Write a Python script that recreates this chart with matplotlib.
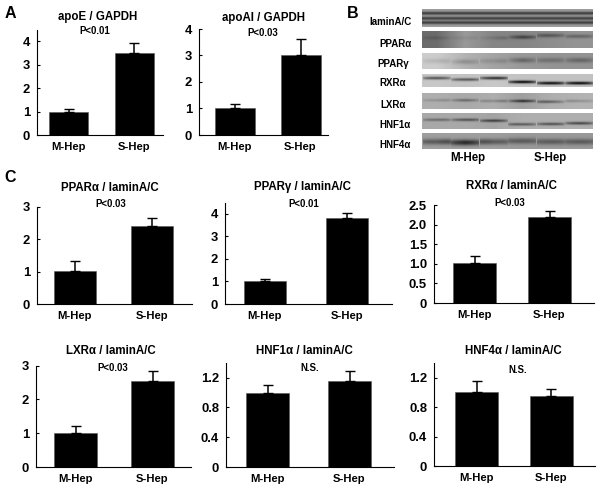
import numpy as np
import matplotlib
matplotlib.use('Agg')
import matplotlib.pyplot as plt

plt.rcParams['font.family'] = ['Liberation Sans', 'DejaVu Sans']
plt.rcParams['font.weight'] = 'bold'

W, H = 600, 486

groups = ['M-Hep', 'S-Hep']

apoe_vals = [1.0, 3.5]
apoe_tops = [1.12, 3.92]
apoai_vals = [1.02, 3.0]
apoai_tops = [1.18, 3.62]
ppara_vals = [1.02, 2.4]
ppara_tops = [1.32, 2.65]
pparg_vals = [1.0, 3.8]
pparg_tops = [1.1, 4.05]
rxra_vals = [1.02, 2.2]
rxra_tops = [1.2, 2.35]
lxra_vals = [1.02, 2.55]
lxra_tops = [1.2, 2.85]
hnf1_vals = [1.0, 1.15]
hnf1_tops = [1.1, 1.29]
hnf4_vals = [1.0, 0.95]
hnf4_tops = [1.15, 1.04]

blot_names = ['laminA/C', 'PPARα', 'PPARγ', 'RXRα', 'LXRα', 'HNF1α', 'HNF4α']
blot_bg = [
    [0.62, 0.62, 0.62, 0.62, 0.62, 0.62],
    [0.42, 0.60, 0.52, 0.52, 0.55, 0.58],
    [0.80, 0.70, 0.64, 0.60, 0.58, 0.58],
    [0.78, 0.76, 0.78, 0.76, 0.76, 0.76],
    [0.68, 0.66, 0.68, 0.62, 0.68, 0.70],
    [0.66, 0.66, 0.64, 0.68, 0.68, 0.68],
    [0.62, 0.62, 0.62, 0.60, 0.60, 0.60],
]
blot_bands = [
    [0.36, 0.36, 0.36, 0.36, 0.36, 0.36],
    [0.06, 0.04, 0.06, 0.26, 0.20, 0.18],
    [0.08, 0.14, 0.08, 0.20, 0.14, 0.18],
    [0.42, 0.38, 0.55, 0.68, 0.66, 0.68],
    [0.10, 0.24, 0.12, 0.42, 0.28, 0.12],
    [0.22, 0.32, 0.38, 0.30, 0.34, 0.38],
    [0.26, 0.46, 0.26, 0.24, 0.24, 0.24],
]
blot_band_rows = [
    [0.22, 0.22, 0.22, 0.22, 0.22, 0.22],
    [0.40, 0.40, 0.40, 0.35, 0.25, 0.30],
    [0.50, 0.55, 0.50, 0.45, 0.45, 0.45],
    [0.30, 0.42, 0.30, 0.62, 0.72, 0.72],
    [0.45, 0.45, 0.50, 0.50, 0.55, 0.50],
    [0.42, 0.42, 0.48, 0.72, 0.70, 0.65],
    [0.55, 0.60, 0.55, 0.50, 0.55, 0.55],
]


def px(x, y):
    return x / W, 1 - y / H


def bar_panel(box, bars, ymax, ticks, ticklabels, vals, tops, title, note):
    left, right, top, base = box
    ax = fig.add_axes([left / W, 1 - base / H, (right - left) / W, (base - top) / H])
    centers = [(b[0] + b[1]) / 2 for b in bars]
    width = bars[0][1] - bars[0][0]
    errs = [t - v for v, t in zip(vals, tops)]
    ax.bar(centers, vals, width=width, color='black', edgecolor='#555555', linewidth=0.4,
           yerr=[[0, 0], errs], error_kw=dict(ecolor='black', elinewidth=1.1, capsize=3.6, capthick=1.0))
    ax.set_xlim(left, right)
    ax.set_ylim(0, ymax)
    ax.set_xticks(centers)
    ax.set_xticklabels(groups, fontsize=8.1)
    ax.tick_params(axis='x', length=0, pad=5)
    ax.set_yticks(ticks)
    ax.set_yticklabels(ticklabels, fontsize=9.4)
    ax.tick_params(axis='y', direction='in', length=2, width=0.8, pad=5)
    ax.spines['top'].set_visible(False)
    ax.spines['right'].set_visible(False)
    ax.patch.set_alpha(0)
    fig.text(*px(title[1], title[2]), title[0], fontsize=8.3, ha='center', va='center')
    fig.text(*px(note[1], note[2]), note[0], fontsize=6.9, ha='center', va='center')


def blot_strip(box, bg, bands, rows, extra_rows, gap, sharp):
    x0, x1, y0, y1 = box
    ax = fig.add_axes([x0 / W, 1 - y1 / H, (x1 - x0) / W, (y1 - y0) / H])
    nx, ny = x1 - x0, y1 - y0
    lane_x = (np.arange(6) + 0.5) * nx / 6
    xs = np.arange(nx)
    ys = np.linspace(0, 1, ny)
    img = np.tile(np.interp(xs, lane_x, bg), (ny, 1))
    # bands fade out in the gaps between lanes
    lane_shape = np.abs(np.sin(np.pi * xs * 6 / nx)) ** gap
    strength = np.interp(xs, lane_x, bands) * lane_shape
    lane_idx = np.minimum((xs * 6 / nx).astype(int), 5)
    band_row = np.array(rows)[lane_idx]
    for off in extra_rows:
        img = img - strength * np.exp(-((ys[:, None] - band_row - off) / sharp) ** 2)
    ax.imshow(np.clip(img, 0, 1), cmap='gray', vmin=0, vmax=1, aspect='auto', interpolation='bilinear')
    ax.axis('off')


fig = plt.figure(figsize=(W / 100, H / 100), dpi=100)

# panel A
bar_panel((37, 163, 30, 135), [(49, 88), (114, 154)], 4.49, [0, 1, 2, 3, 4], ['0', '1', '2', '3', '4'],
          apoe_vals, apoe_tops, ('apoE / GAPDH', 98, 17), ('P<0.01', 95, 31))
bar_panel((199, 328, 29, 135), [(215, 255), (281, 320)], 4.0, [0, 1, 2, 3, 4], ['0', '1', '2', '3', '4'],
          apoai_vals, apoai_tops, ('apoAI / GAPDH', 264, 18), ('P<0.03', 263, 33))

# panel C top
bar_panel((37, 192, 206.7, 304), [(54, 96), (131, 173)], 3.0, [0, 1, 2, 3], ['0', '1', '2', '3'],
          ppara_vals, ppara_tops, ('PPARα / laminA/C', 110, 188), ('P<0.03', 111, 204))
bar_panel((225, 392, 202.7, 304), [(244, 286), (326, 368)], 4.49, [0, 1, 2, 3, 4], ['0', '1', '2', '3', '4'],
          pparg_vals, pparg_tops, ('PPARγ / laminA/C', 303, 187), ('P<0.01', 304, 204))
bar_panel((434, 594, 205, 303), [(453, 496), (528, 571)], 2.5, [0, 0.5, 1, 1.5, 2, 2.5],
          ['0', '0.5', '1.0', '1.5', '2.0', '2.5'],
          rxra_vals, rxra_tops, ('RXRα / laminA/C', 512, 186), ('P<0.03', 510, 203))

# panel C bottom
bar_panel((36, 191, 365.7, 467), [(54, 97), (131, 174)], 3.0, [0, 1, 2, 3], ['0', '1', '2', '3'],
          lxra_vals, lxra_tops, ('LXRα / laminA/C', 111, 351), ('P<0.03', 113, 368))
bar_panel((226, 394, 362.7, 467), [(246, 289), (328, 371)], 1.4, [0, 0.4, 0.8, 1.2], ['0', '0.4', '0.8', '1.2'],
          hnf1_vals, hnf1_tops, ('HNF1α / laminA/C', 304, 351), ('N.S.', 310, 368))
bar_panel((434, 595, 363, 466), [(455, 498), (530, 572)], 1.4, [0, 0.4, 0.8, 1.2], ['0', '0.4', '0.8', '1.2'],
          hnf4_vals, hnf4_tops, ('HNF4α / laminA/C', 513, 351), ('N.S.', 518, 370))

# panel B blots
strip_boxes = [(422, 593, 9, 27), (422, 593, 31, 48), (422, 593, 53, 69), (422, 593, 74, 87),
               (422, 593, 93, 109), (422, 593, 113, 129), (422, 593, 133, 149)]
strip_offsets = [[0, 0.3, 0.55], [0], [0], [0], [0], [0], [0]]
strip_gap = [0, 0.3, 0.3, 0.3, 0.3, 0.3, 0.1]
strip_sharp = [0.1, 0.12, 0.17, 0.13, 0.1, 0.1, 0.2]
label_x = [390, 395, 393, 393, 393, 395, 395]
label_y = [22, 44, 64, 83, 105, 125, 145]
for i, name in enumerate(blot_names):
    blot_strip(strip_boxes[i], blot_bg[i], blot_bands[i], blot_band_rows[i], strip_offsets[i],
               strip_gap[i], strip_sharp[i])
    fig.text(*px(label_x[i], label_y[i]), name, fontsize=7, ha='center', va='center')
fig.text(*px(468, 158), groups[0], fontsize=8.3, ha='center', va='center')
fig.text(*px(550, 158), groups[1], fontsize=8.3, ha='center', va='center')

fig.text(*px(10, 13), 'A', fontsize=11.5, ha='center', va='center')
fig.text(*px(353, 13), 'B', fontsize=11.5, ha='center', va='center')
fig.text(*px(10, 177), 'C', fontsize=11.5, ha='center', va='center')

fig.savefig('out.png', dpi=100)
